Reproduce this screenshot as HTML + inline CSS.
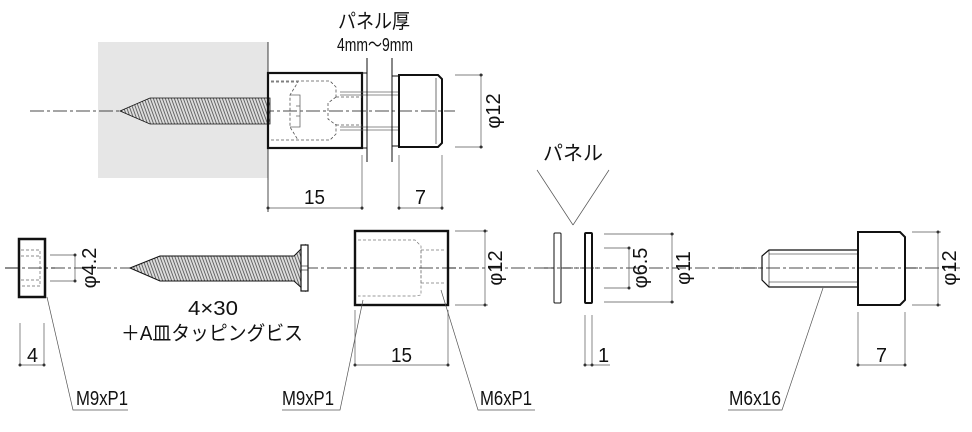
<!DOCTYPE html>
<html><head><meta charset="utf-8"><style>
html,body{margin:0;padding:0;background:#fff}
svg text{font-family:"Liberation Sans","Noto Sans CJK JP",sans-serif;fill:#111}
</style></head><body>
<svg width="972" height="427" viewBox="0 0 972 427" xmlns="http://www.w3.org/2000/svg">
<defs>
<pattern id="th" width="3" height="30" patternUnits="userSpaceOnUse" patternTransform="skewX(20)">
<rect width="3" height="30" fill="#ddd"/><line x1="0.5" y1="0" x2="0.5" y2="30" stroke="#444" stroke-width="0.8"/>
</pattern>
</defs>
<g stroke="#111" fill="none">
<!-- TOP ASSEMBLY -->
<rect x="98" y="42" width="170" height="136" fill="#e6e6e6" stroke="none"/>
<line x1="268" y1="42" x2="268" y2="212" stroke-width="0.8"/>
<line x1="30" y1="111" x2="455" y2="111" stroke-width="0.8" stroke-dasharray="14,3,3,3"/>
<polygon points="120,111 150,98 270,98 270,124 150,124" fill="url(#th)" stroke-width="0.8"/>
<rect x="268" y="73" width="94" height="75" fill="none" stroke-width="2.2"/>
<g stroke-width="0.8" stroke-dasharray="3,2" stroke="#555">
<path d="M271,81 H330 L336,87 V97 M271,140 H330 L336,134 V124"/>
<path d="M336,97 L328,103 V119 L336,125 M336,97 H362 M336,125 H362"/>
<path d="M271,82 H298 L290,95 V127 L298,140"/>
</g>
<g stroke="#666" stroke-width="0.8">
<path d="M290,95 H300 V127 H290 M296,106 H300 M296,116 H300"/>
<line x1="340" y1="92" x2="399" y2="92"/><line x1="340" y1="130" x2="399" y2="130"/>
<line x1="340" y1="95" x2="399" y2="95"/><line x1="340" y1="127" x2="399" y2="127"/>
</g>
<line x1="362" y1="73" x2="367" y2="73" stroke-width="1"/><line x1="362" y1="148" x2="367" y2="148" stroke-width="1"/>
<line x1="367" y1="58" x2="367" y2="162" stroke-width="1"/>
<line x1="392" y1="58" x2="392" y2="162" stroke-width="1"/>
<line x1="392" y1="76" x2="399" y2="76"/><line x1="392" y1="146" x2="399" y2="146"/>
<path d="M399,75 H438 L442,79 V143 L438,147 H399 Z" stroke-width="2"/>
<line x1="436" y1="78" x2="436" y2="144" stroke-width="0.6"/>
<g stroke-width="0.7" stroke="#555">
<line x1="455" y1="75" x2="483" y2="75"/><line x1="455" y1="147" x2="483" y2="147"/>
<line x1="481" y1="75" x2="481" y2="147"/>
<line x1="268" y1="180" x2="268" y2="210"/><line x1="362" y1="155" x2="362" y2="210"/>
<line x1="268" y1="208" x2="362" y2="208"/>
<line x1="399" y1="155" x2="399" y2="210"/><line x1="442" y1="155" x2="442" y2="210"/>
<line x1="399" y1="208" x2="442" y2="208"/>
</g>
<!-- BOTTOM -->
<line x1="5" y1="268" x2="960" y2="268" stroke-width="0.8" stroke-dasharray="14,3,3,3"/>
<rect x="19" y="239" width="26" height="58" stroke-width="2.5" fill="#fff"/>
<g stroke="#666" stroke-width="0.7" stroke-dasharray="3,2"><path d="M21,250 H40 V286 H21 M21,256 H40 M21,280 H40"/></g>
<line x1="5" y1="268" x2="55" y2="268" stroke-width="0.8" stroke-dasharray="14,3,3,3"/>
<g stroke="#555" stroke-width="0.7">
<line x1="50" y1="255" x2="76" y2="255"/><line x1="50" y1="281" x2="76" y2="281"/><line x1="75" y1="255" x2="75" y2="281"/>
</g>
<polygon points="130,268 160,256 294,256 305,245 305,291 294,281 160,281" fill="url(#th)" stroke-width="1"/>
<rect x="301" y="245" width="7" height="46" fill="#fff" stroke-width="1.2"/>
<line x1="301" y1="266" x2="308" y2="266" stroke-width="0.6"/><line x1="301" y1="270" x2="308" y2="270" stroke-width="0.6"/>
<rect x="355" y="231" width="93" height="74" fill="#fff" stroke-width="2.4"/>
<g stroke="#777" stroke-width="0.7" stroke-dasharray="3,2">
<path d="M358,240 H415 L421,246 V295 L415,296 H358"/>
<path d="M421,250 H446 M421,283 H446 M421,250 V283"/>
</g>
<line x1="350" y1="268" x2="460" y2="268" stroke-width="0.8" stroke-dasharray="14,3,3,3"/>
<g stroke="#555" stroke-width="0.7">
<line x1="455" y1="231" x2="488" y2="231"/><line x1="455" y1="305" x2="488" y2="305"/><line x1="485" y1="231" x2="485" y2="305"/>
<line x1="20" y1="323" x2="20" y2="366"/><line x1="44" y1="323" x2="44" y2="366"/><line x1="20" y1="365" x2="44" y2="365"/>
<line x1="355" y1="310" x2="355" y2="366"/><line x1="448" y1="310" x2="448" y2="366"/><line x1="355" y1="365" x2="448" y2="365"/>
<polyline points="47,297 73,410 128,410"/>
<polyline points="363,300 340,410 282,410"/>
<polyline points="441,290 478,410 535,410"/>
<line x1="537" y1="170" x2="573" y2="225"/><line x1="573" y1="225" x2="609" y2="170"/>
</g>
<rect x="554" y="233" width="7" height="70" rx="1" fill="#fff" stroke-width="1"/>
<rect x="585" y="233" width="7" height="70" rx="1" fill="#fff" stroke-width="2"/>
<line x1="544" y1="268" x2="600" y2="268" stroke-width="0.8" stroke-dasharray="10,3,3,3"/>
<g stroke="#555" stroke-width="0.7">
<line x1="604" y1="234" x2="674" y2="234"/><line x1="604" y1="302" x2="674" y2="302"/><line x1="672" y1="234" x2="672" y2="302"/>
<line x1="604" y1="248" x2="630" y2="248"/><line x1="604" y1="288" x2="630" y2="288"/><line x1="629" y1="248" x2="629" y2="288"/>
<line x1="585" y1="315" x2="585" y2="366"/><line x1="592" y1="315" x2="592" y2="366"/><line x1="585" y1="365" x2="610" y2="365"/>
</g>
<path d="M858,250 H769 L762,256 V280 L769,287 H858" fill="#fff" stroke-width="1.2"/>
<line x1="769" y1="254" x2="858" y2="254" stroke-width="0.6"/><line x1="769" y1="282" x2="858" y2="282" stroke-width="0.6"/>
<line x1="769" y1="250" x2="769" y2="287" stroke-width="0.6"/>
<path d="M858,232 H900 L905,237 V300 L900,305 H858 Z" fill="#fff" stroke-width="2"/>
<line x1="720" y1="268" x2="920" y2="268" stroke-width="0.8" stroke-dasharray="14,3,3,3"/>
<g stroke="#555" stroke-width="0.7">
<line x1="912" y1="232" x2="941" y2="232"/><line x1="912" y1="305" x2="941" y2="305"/><line x1="938" y1="232" x2="938" y2="305"/>
<line x1="858" y1="312" x2="858" y2="366"/><line x1="905" y1="312" x2="905" y2="366"/><line x1="858" y1="365" x2="905" y2="365"/>
<polyline points="823,288 782,410 728,410"/>
</g>
</g>
<!-- dimension dots -->
<g fill="#333">
<circle cx="481" cy="75" r="1.5"/><circle cx="481" cy="147" r="1.5"/>
<circle cx="268" cy="208" r="1.5"/><circle cx="362" cy="208" r="1.5"/>
<circle cx="399" cy="208" r="1.5"/><circle cx="442" cy="208" r="1.5"/>
<circle cx="75" cy="255" r="1.5"/><circle cx="75" cy="281" r="1.5"/>
<circle cx="20" cy="365" r="1.5"/><circle cx="44" cy="365" r="1.5"/>
<circle cx="485" cy="231" r="1.5"/><circle cx="485" cy="305" r="1.5"/>
<circle cx="355" cy="365" r="1.5"/><circle cx="448" cy="365" r="1.5"/>
<circle cx="672" cy="234" r="1.5"/><circle cx="672" cy="302" r="1.5"/>
<circle cx="629" cy="248" r="1.5"/><circle cx="629" cy="288" r="1.5"/>
<circle cx="585" cy="365" r="1.5"/><circle cx="592" cy="365" r="1.5"/>
<circle cx="938" cy="232" r="1.5"/><circle cx="938" cy="305" r="1.5"/>
<circle cx="858" cy="365" r="1.5"/><circle cx="905" cy="365" r="1.5"/>
</g>
<!-- TEXT -->
<g font-size="20">
<text x="338" y="28" textLength="72" lengthAdjust="spacingAndGlyphs">パネル厚</text>
<text x="337" y="51" font-size="18" textLength="76" lengthAdjust="spacingAndGlyphs">4mm～9mm</text>
<text x="304" y="204" textLength="21" lengthAdjust="spacingAndGlyphs">15</text>
<text x="415" y="204" textLength="11" lengthAdjust="spacingAndGlyphs">7</text>
<text transform="translate(500,111) rotate(-90)" text-anchor="middle">φ12</text>
<text transform="translate(96,268) rotate(-90)" text-anchor="middle">φ4.2</text>
<text x="188" y="315" textLength="50" lengthAdjust="spacingAndGlyphs">4×30</text>
<text x="121" y="340" textLength="182" lengthAdjust="spacingAndGlyphs">＋A皿タッピングビス</text>
<text x="27" y="362" textLength="11" lengthAdjust="spacingAndGlyphs">4</text>
<text x="76" y="405" textLength="52" lengthAdjust="spacingAndGlyphs">M9xP1</text>
<text x="282" y="405" textLength="52" lengthAdjust="spacingAndGlyphs">M9xP1</text>
<text x="480" y="405" textLength="52" lengthAdjust="spacingAndGlyphs">M6xP1</text>
<text x="391" y="362" textLength="21" lengthAdjust="spacingAndGlyphs">15</text>
<text transform="translate(502,268) rotate(-90)" text-anchor="middle">φ12</text>
<text x="543" y="160" textLength="60" lengthAdjust="spacingAndGlyphs">パネル</text>
<text transform="translate(647,268) rotate(-90)" text-anchor="middle">φ6.5</text>
<text transform="translate(690,268) rotate(-90)" text-anchor="middle">φ11</text>
<text x="598" y="362">1</text>
<text transform="translate(956,268) rotate(-90)" text-anchor="middle">φ12</text>
<text x="876" y="362" textLength="11" lengthAdjust="spacingAndGlyphs">7</text>
<text x="729" y="405" textLength="52" lengthAdjust="spacingAndGlyphs">M6x16</text>
</g>
</svg>
</body></html>
